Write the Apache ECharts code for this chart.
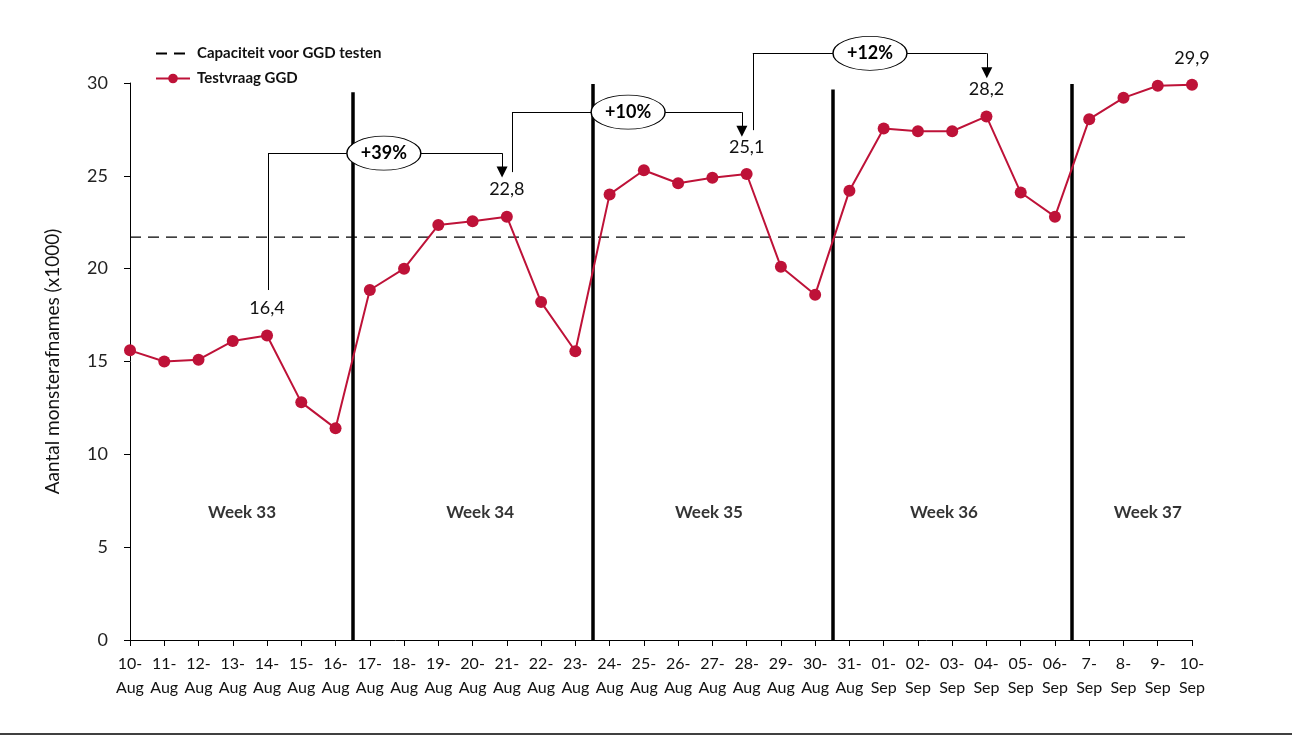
<!DOCTYPE html>
<html>
<head>
<meta charset="utf-8">
<script src="https://cdn.jsdelivr.net/npm/echarts@6/dist/echarts.min.js"></script>
<style>
  html, body { margin: 0; padding: 0; background: #fff; }
  #chart { width: 1299px; height: 737px; }
</style>
</head>
<body>
<div id="chart"></div>
<script>
// categories (days)
const days = ['10-\nAug', '11-\nAug', '12-\nAug', '13-\nAug', '14-\nAug', '15-\nAug', '16-\nAug',
    '17-\nAug', '18-\nAug', '19-\nAug', '20-\nAug', '21-\nAug', '22-\nAug', '23-\nAug',
    '24-\nAug', '25-\nAug', '26-\nAug', '27-\nAug', '28-\nAug', '29-\nAug', '30-\nAug',
    '31-\nAug', '01-\nSep', '02-\nSep', '03-\nSep', '04-\nSep', '05-\nSep', '06-\nSep',
    '7-\nSep', '8-\nSep', '9-\nSep', '10-\nSep']
// testvraag GGD (x1000)
const testvraag = [15.6, 15.0, 15.1, 16.1, 16.4, 12.8, 11.4,
    18.85, 20.0, 22.35, 22.55, 22.8, 18.2, 15.55,
    24.0, 25.3, 24.6, 24.9, 25.1, 20.1, 18.6,
    24.2, 27.55, 27.4, 27.4, 28.2, 24.1, 22.8,
    28.05, 29.2, 29.85, 29.9]
// capaciteit GGD (x1000)
const capaciteit = days.map(() => 21.7)
// punten met waardelabel
const labelIdx = [4, 11, 18, 25, 31]
const labelText = ['16,4', '22,8', '25,1', '28,2', '29,9']
// weekgrenzen (index, top)
const weekLines = [[6.5, 29.5], [13.5, 29.95], [20.5, 29.65], [27.5, 29.95]]
const weekNames = ['Week 33', 'Week 34', 'Week 35', 'Week 36', 'Week 37']
const weekPos = [3.27, 10.22, 16.9, 23.76, 29.71]
const weekY = 6.84
// groei-annotaties: bubbel + pad (laatste stuk is de pijl)
const growthText = ['+39%', '+10%', '+12%']
const growthBubble = [[7.41, 26.22], [14.54, 28.43], [21.6, 31.6]]
const growthPaths = [
    [[4.03, 18.85], [4.03, 26.22], [10.86, 26.22], [10.86, 25.2]],
    [[11.15, 25.2], [11.15, 28.43], [17.86, 28.43], [17.86, 27.4]],
    [[18.18, 27.46], [18.18, 31.6], [25.01, 31.6], [25.01, 30.55]]
]

const chart = echarts.init(document.getElementById('chart'))
const font = 'Lato, "Open Sans", sans-serif'
const red = '#BE1238'

// pad opknippen in losse stukken; laatste stuk krijgt de pijlpunt
const segs = []
const arrows = []
growthPaths.forEach(p => {
    for (let i = 0; i < p.length - 1; i++) {
        const s = { coords: [p[i], p[i + 1]] }
        if (i === p.length - 2) arrows.push(s)
        else segs.push(s)
    }
})

const option = {
    backgroundColor: '#fff',
    animation: false,
    textStyle: { fontFamily: font },
    grid: { left: 130, right: 107, top: 83, bottom: 97 },
    legend: {
        orient: 'vertical',
        left: 150,
        top: 41,
        itemWidth: 34,
        itemHeight: 12,
        itemGap: 10,
        textStyle: { fontFamily: font, fontWeight: 'bold', fontSize: 15, color: '#111', padding: [0, 0, 0, 2] },
        data: [
            { name: 'Capaciteit voor GGD testen', itemStyle: { opacity: 0 } },
            'Testvraag GGD'
        ]
    },
    xAxis: [{
        type: 'category',
        data: days,
        boundaryGap: false,
        axisLine: { lineStyle: { color: '#000', width: 1 } },
        axisTick: { show: true, length: 6, lineStyle: { color: '#000' } },
        axisLabel: { color: '#111', fontSize: 16, lineHeight: 24, margin: 12, interval: 0, fontFamily: font }
    }, {
        type: 'value',
        min: 0,
        max: 31,
        show: false
    }],
    yAxis: {
        type: 'value',
        min: 0,
        max: 30,
        interval: 5,
        name: 'Aantal monsterafnames (x1000)',
        nameLocation: 'middle',
        nameGap: 68,
        nameTextStyle: { fontSize: 19, color: '#111', fontFamily: font },
        splitLine: { show: false },
        axisLine: { show: true, lineStyle: { color: '#000', width: 1 } },
        axisTick: { show: true, length: 6, lineStyle: { color: '#000' } },
        axisLabel: { color: '#222', fontSize: 18, margin: 22, fontFamily: font }
    },
    series: [{
        name: 'Capaciteit voor GGD testen',
        type: 'line',
        data: capaciteit,
        symbol: 'none',
        lineStyle: { color: '#000', width: 1.3, type: [11, 7] },
        itemStyle: { color: '#000' },
        z: 1
    }, {
        name: 'Weekgrens',
        type: 'lines',
        coordinateSystem: 'cartesian2d',
        xAxisIndex: 1,
        data: weekLines.map(w => ({ coords: [[w[0], 0], [w[0], w[1]]] })),
        lineStyle: { color: '#000', width: 3.5, opacity: 1 },
        z: 2
    }, {
        name: 'Testvraag GGD',
        type: 'line',
        data: testvraag.map((v, i) => {
            const k = labelIdx.indexOf(i)
            if (k < 0) return v
            return {
                value: v,
                label: { show: true, position: 'top', distance: 12, formatter: labelText[k],
                    fontSize: 18, color: '#111', fontFamily: font }
            }
        }),
        symbol: 'circle',
        symbolSize: 12,
        lineStyle: { color: red, width: 2 },
        itemStyle: { color: red },
        z: 5
    }, {
        name: 'Groei',
        type: 'lines',
        coordinateSystem: 'cartesian2d',
        xAxisIndex: 1,
        clip: false,
        data: segs,
        lineStyle: { color: '#000', width: 1, opacity: 1 },
        z: 6
    }, {
        name: 'Groeipijl',
        type: 'lines',
        coordinateSystem: 'cartesian2d',
        xAxisIndex: 1,
        clip: false,
        symbol: ['none', 'triangle'],
        symbolSize: [10, 11],
        data: arrows,
        lineStyle: { color: '#000', width: 1, opacity: 1 },
        itemStyle: { color: '#000' },
        z: 6
    }, {
        name: 'Groeilabel',
        type: 'scatter',
        xAxisIndex: 1,
        clip: false,
        symbol: 'circle',
        symbolSize: [74, 34],
        data: growthBubble.map((b, i) => ({ value: b, name: growthText[i] })),
        itemStyle: { color: '#fff', borderColor: '#000', borderWidth: 1, opacity: 1 },
        label: { show: true, position: 'inside', formatter: p => p.name,
            fontSize: 18, fontWeight: 'bold', color: '#000', fontFamily: font },
        z: 7
    }, {
        name: 'Week',
        type: 'scatter',
        xAxisIndex: 1,
        symbolSize: 0,
        data: weekPos.map((x, i) => ({ value: [x, weekY], name: weekNames[i] })),
        label: { show: true, position: 'inside', formatter: p => p.name,
            fontSize: 17, fontWeight: 'bold', color: '#000', fontFamily: font },
        z: 4
    }],
    graphic: [{
        type: 'line',
        shape: { x1: 0, y1: 734, x2: 1292, y2: 734 },
        style: { stroke: '#000', lineWidth: 1.5 }
    }]
}
chart.setOption(option)
</script>
</body>
</html>
